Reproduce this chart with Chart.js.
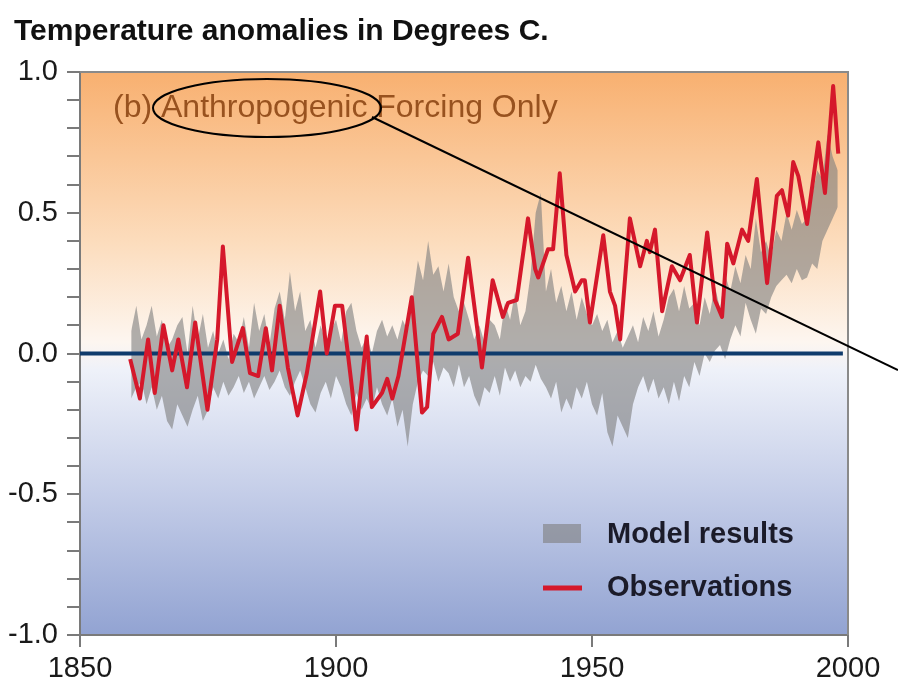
<!DOCTYPE html>
<html>
<head>
<meta charset="utf-8">
<script src="https://cdn.jsdelivr.net/npm/chart.js@4"></script>
<style>
  html, body { margin: 0; padding: 0; background: #fff; }
  #wrap { width: 898px; height: 694px; position: relative; }
</style>
</head>
<body>
<div id="wrap"><canvas id="myChart" width="898" height="694"></canvas></div>
<script>
// observations (red line)
const obsYears = [1859.8, 1861.7, 1863.3, 1864.6, 1866.3, 1868.0, 1869.2, 1870.9, 1872.5, 1874.9,
    1876.8, 1877.9, 1879.7, 1881.8, 1883.2, 1884.8, 1886.3, 1887.5, 1889.0, 1890.6,
    1892.5, 1894.3, 1896.9, 1898.2, 1899.8, 1901.2, 1903.1, 1904.0, 1906.0, 1907.0,
    1909.0, 1910.0, 1911.0, 1912.2, 1914.8, 1916.8, 1917.8, 1919.0, 1920.7, 1922.0,
    1923.8, 1925.8, 1927.5, 1928.5, 1930.6, 1932.6, 1933.6, 1935.3, 1937.5, 1938.9,
    1939.5, 1941.4, 1942.4, 1943.7, 1945.0, 1946.7, 1948.0, 1948.6, 1949.6, 1952.2,
    1953.5, 1954.5, 1955.5, 1957.4, 1959.4, 1960.7, 1961.3, 1962.3, 1963.7, 1965.6,
    1967.2, 1969.1, 1970.5, 1972.5, 1974.0, 1975.4, 1976.4, 1977.6, 1979.3, 1980.5,
    1982.2, 1984.2, 1986.1, 1987.1, 1988.3, 1989.3, 1990.3, 1992.0, 1994.2, 1995.5,
    1997.1, 1998.1];
const obsValues = [-0.02, -0.16, 0.05, -0.14, 0.10, -0.06, 0.05, -0.12, 0.11, -0.20,
    0.05, 0.38, -0.03, 0.09, -0.07, -0.08, 0.09, -0.06, 0.17, -0.05,
    -0.22, -0.07, 0.22, 0.00, 0.17, 0.17, -0.12, -0.27, 0.06, -0.19,
    -0.14, -0.09, -0.16, -0.08, 0.20, -0.21, -0.19, 0.07, 0.13, 0.05,
    0.07, 0.34, 0.10, -0.05, 0.26, 0.13, 0.18, 0.19, 0.48, 0.30,
    0.27, 0.37, 0.37, 0.64, 0.35, 0.22, 0.26, 0.26, 0.11, 0.42,
    0.22, 0.17, 0.05, 0.48, 0.31, 0.40, 0.36, 0.44, 0.15, 0.31,
    0.26, 0.35, 0.11, 0.43, 0.19, 0.13, 0.39, 0.32, 0.44, 0.40,
    0.62, 0.25, 0.56, 0.58, 0.49, 0.68, 0.63, 0.46, 0.75, 0.57,
    0.95, 0.71];

// model results (grey band), one low / high pair per year from 1860
const modelStart = 1860;
const modelLow = [
    -0.16, -0.12, -0.10, -0.18, -0.12, -0.20, -0.15, -0.24, -0.27, -0.18,
    -0.22, -0.26, -0.20, -0.15, -0.24, -0.20, -0.12, -0.16, -0.10, -0.15,
    -0.12, -0.08, -0.14, -0.10, -0.16, -0.12, -0.08, -0.13, -0.10, -0.06,
    -0.12, -0.15, -0.10, -0.06, -0.12, -0.18, -0.21, -0.14, -0.10, -0.16,
    -0.08, -0.12, -0.18, -0.22, -0.14, -0.20, -0.16, -0.20, -0.12, -0.18,
    -0.22, -0.16, -0.26, -0.20, -0.33, -0.18, -0.10, -0.06, -0.08, -0.03,
    -0.10, -0.05, -0.07, -0.12, -0.04, -0.12, -0.08, -0.15, -0.19, -0.12,
    -0.14, -0.08, -0.15, -0.05, -0.10, -0.06, -0.12, -0.08, -0.10, -0.04,
    -0.09, -0.12, -0.16, -0.10, -0.21, -0.16, -0.20, -0.12, -0.16, -0.10,
    -0.18, -0.22, -0.14, -0.28, -0.33, -0.22, -0.26, -0.30, -0.18, -0.12,
    -0.08, -0.14, -0.09, -0.16, -0.12, -0.18, -0.10, -0.17, -0.08, -0.12,
    -0.03, -0.08, 0.00, -0.03, 0.01, 0.03, -0.02, 0.05, 0.10, 0.06,
    0.18, 0.12, 0.07, 0.16, 0.14, 0.20, 0.24, 0.26, 0.28, 0.25,
    0.30, 0.26, 0.27, 0.32, 0.30, 0.40, 0.44, 0.48, 0.52];
const modelHigh = [
    0.08, 0.17, 0.05, 0.10, 0.17, 0.06, 0.12, 0.02, 0.05, 0.10,
    0.13, 0.00, 0.17, 0.05, 0.14, 0.02, 0.08, 0.00, 0.05, -0.02,
    0.07, 0.04, 0.13, 0.02, 0.18, 0.08, 0.14, 0.03, 0.16, 0.22,
    0.12, 0.29, 0.15, 0.22, 0.08, 0.12, 0.02, 0.10, 0.04, 0.08,
    0.12, 0.04, 0.15, 0.18, 0.08, 0.02, 0.06, 0.00, 0.08, 0.12,
    0.06, 0.10, 0.05, 0.12, 0.08, 0.20, 0.33, 0.26, 0.40, 0.28,
    0.31, 0.22, 0.32, 0.20, 0.15, 0.18, 0.12, 0.05, 0.10, 0.04,
    0.12, 0.10, 0.05, 0.18, 0.12, 0.22, 0.10, 0.15, 0.28, 0.50,
    0.57, 0.22, 0.30, 0.18, 0.24, 0.15, 0.22, 0.12, 0.20, 0.14,
    0.10, 0.14, 0.08, 0.12, 0.04, 0.08, 0.02, 0.06, 0.10, 0.04,
    0.13, 0.08, 0.15, 0.06, 0.12, 0.20, 0.23, 0.15, 0.24, 0.16,
    0.18, 0.10, 0.20, 0.14, 0.24, 0.16, 0.28, 0.22, 0.31, 0.25,
    0.35, 0.30, 0.48, 0.36, 0.40, 0.34, 0.44, 0.40, 0.50, 0.44,
    0.51, 0.46, 0.48, 0.56, 0.65, 0.62, 0.78, 0.70, 0.65];
const modelYears = modelLow.map((v, i) => modelStart + i);

const zeroYears = [1850, 1999];
const zeroValues = [0, 0];

const xTicks = [1850, 1900, 1950, 2000];
const legendLabels = ['Model results', 'Observations'];

const FONT = '"Liberation Sans", Arial, sans-serif';
const RED = '#d5182b';
const GREY = 'rgba(125,125,125,0.6)';
const NAVY = '#0f3b6c';

function pts(xs, ys) {
    return xs.map((x, i) => ({ x: x, y: ys[i] }));
}

const decor = {
    id: 'decor',
    beforeDraw(chart) {
        const ctx = chart.ctx, a = chart.chartArea;
        ctx.save();
        ctx.fillStyle = '#fff';
        ctx.fillRect(0, 0, chart.width, chart.height);
        const g = ctx.createLinearGradient(0, a.top, 0, a.bottom);
        g.addColorStop(0, '#f8b070');
        g.addColorStop(0.3, '#fcdcbc');
        g.addColorStop(0.48, '#fdf6f0');
        g.addColorStop(0.53, '#eef1f9');
        g.addColorStop(0.75, '#c4cde8');
        g.addColorStop(1, '#92a3d2');
        ctx.fillStyle = g;
        ctx.fillRect(a.left, a.top, a.right - a.left, a.bottom - a.top);
        ctx.restore();
    },
    afterDraw(chart) {
        const ctx = chart.ctx, a = chart.chartArea;
        ctx.save();
        // frame top / right
        ctx.strokeStyle = '#8a8a8a';
        ctx.lineWidth = 2;
        ctx.beginPath();
        ctx.moveTo(a.left, a.top);
        ctx.lineTo(a.right, a.top);
        ctx.lineTo(a.right, a.bottom);
        ctx.stroke();

        // title
        ctx.fillStyle = '#111';
        ctx.font = 'bold 30px ' + FONT;
        ctx.textBaseline = 'alphabetic';
        ctx.textAlign = 'left';
        ctx.fillText('Temperature anomalies in Degrees C.', 14, 40);

        // panel caption
        ctx.fillStyle = '#98521f';
        ctx.font = '32px ' + FONT;
        ctx.fillText('(b) Anthropogenic Forcing Only', 113, 117);

        // ellipse + leader line
        ctx.strokeStyle = '#000';
        ctx.lineWidth = 2;
        ctx.beginPath();
        ctx.ellipse(267, 108, 114, 29, 0, 0, Math.PI * 2);
        ctx.stroke();
        ctx.beginPath();
        ctx.moveTo(372, 117);
        ctx.lineTo(898, 370);
        ctx.stroke();

        // legend
        ctx.fillStyle = GREY;
        ctx.fillRect(543, 524, 38, 19);
        ctx.strokeStyle = RED;
        ctx.lineWidth = 5;
        ctx.beginPath();
        ctx.moveTo(543, 588);
        ctx.lineTo(582, 588);
        ctx.stroke();
        ctx.fillStyle = '#1b1b29';
        ctx.font = 'bold 29px ' + FONT;
        ctx.fillText(legendLabels[0], 607, 543);
        ctx.fillText(legendLabels[1], 607, 596);
        ctx.restore();
    }
};

const data = {
    datasets: [
        {
            label: legendLabels[1],
            data: pts(obsYears, obsValues),
            borderColor: RED,
            borderWidth: 4,
            borderJoinStyle: 'round',
            pointRadius: 0,
            tension: 0,
            fill: false
        },
        {
            label: 'zero',
            data: pts(zeroYears, zeroValues),
            borderColor: NAVY,
            borderWidth: 4,
            pointRadius: 0,
            fill: false
        },
        {
            label: legendLabels[0],
            data: pts(modelYears, modelHigh),
            borderWidth: 0,
            borderColor: 'rgba(0,0,0,0)',
            backgroundColor: GREY,
            pointRadius: 0,
            tension: 0,
            fill: '+1'
        },
        {
            label: 'model low',
            data: pts(modelYears, modelLow),
            borderWidth: 0,
            borderColor: 'rgba(0,0,0,0)',
            pointRadius: 0,
            tension: 0,
            fill: false
        }
    ]
};

const config = {
    type: 'line',
    data: data,
    plugins: [decor],
    options: {
        responsive: false,
        animation: false,
        layout: { padding: { top: 72, right: 50, left: 0, bottom: 0 } },
        plugins: {
            legend: { display: false },
            tooltip: { enabled: false },
            title: { display: false }
        },
        scales: {
            x: {
                type: 'linear',
                min: 1850,
                max: 2000,
                afterFit: (s) => { s.height = 59; },
                afterBuildTicks: (s) => { s.ticks = xTicks.map(v => ({ value: v })); },
                border: { color: '#7a7a7a', width: 2 },
                grid: { drawOnChartArea: false, tickLength: 12, color: '#7a7a7a', lineWidth: 2 },
                ticks: {
                    autoSkip: false,
                    maxRotation: 0,
                    padding: 5,
                    color: '#1a1a1a',
                    font: { family: FONT, size: 29 },
                    callback: (v) => String(v)
                }
            },
            y: {
                min: -1,
                max: 1,
                afterFit: (s) => { s.width = 80; },
                border: { color: '#7a7a7a', width: 2 },
                grid: { drawOnChartArea: false, tickLength: 13, color: '#7a7a7a', lineWidth: 2 },
                ticks: {
                    stepSize: 0.1,
                    autoSkip: false,
                    padding: 9,
                    color: '#1a1a1a',
                    font: { family: FONT, size: 29 },
                    callback: (v) => {
                        const r = Math.round(v * 10);
                        return r % 5 === 0 ? (r / 10).toFixed(1) : '';
                    }
                }
            }
        }
    }
};

const ctx = document.getElementById('myChart');
window.myChart = new Chart(ctx, config);
</script>
</body>
</html>
